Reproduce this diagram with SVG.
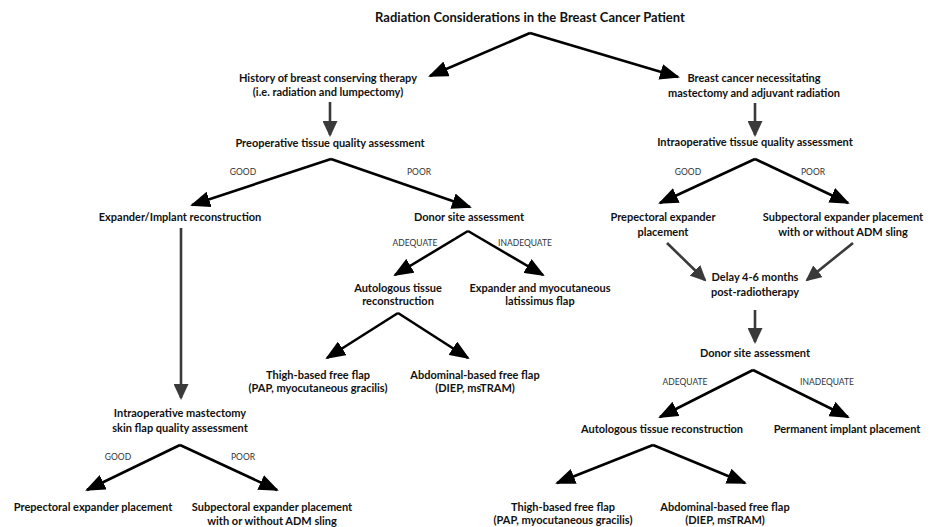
<svg xmlns="http://www.w3.org/2000/svg" width="931" height="527" viewBox="0 0 931 527">
<defs>
<marker id="ah" markerUnits="userSpaceOnUse" markerWidth="20" markerHeight="16" refX="18" refY="8" orient="auto" viewBox="0 0 20 16">
<path d="M0,0 L20,8 L0,16 Z" fill="#000"/>
</marker>
<marker id="ahg" markerUnits="userSpaceOnUse" markerWidth="16" markerHeight="15" refX="14" refY="7.5" orient="auto" viewBox="0 0 16 15">
<path d="M0,0 L16,7.5 L0,15 Z" fill="#3a3a3a"/>
</marker>
<style>
text{font-family:Lato,"Liberation Sans",sans-serif;text-anchor:middle;fill:#111}
.n{font-size:11px;font-weight:bold}
.t{font-size:13px;font-weight:bold}
.l{font-size:8.5px;fill:#333}
.c{stroke:#000;stroke-width:2.6;fill:none;marker-end:url(#ah)}
.g{stroke:#3a3a3a;stroke-width:2.6;fill:none;marker-end:url(#ahg)}
</style>
</defs>
<rect width="931" height="527" fill="#fff"/>
<g id="connectors">
<line class="c" x1="530" y1="33" x2="430" y2="76"/>
<line class="c" x1="530" y1="33" x2="678" y2="77"/>
<line class="g" x1="330" y1="102" x2="330" y2="135"/>
<line class="g" x1="755" y1="103" x2="755" y2="135"/>
<line class="c" x1="331" y1="159" x2="192" y2="205"/>
<line class="c" x1="331" y1="159" x2="470" y2="207"/>
<line class="c" x1="755" y1="159" x2="660" y2="203"/>
<line class="c" x1="755" y1="159" x2="848" y2="203"/>
<line class="g" x1="181" y1="228" x2="181" y2="398"/>
<line class="c" x1="468" y1="231" x2="395" y2="275"/>
<line class="c" x1="468" y1="231" x2="543" y2="275"/>
<line class="g" x1="667" y1="243" x2="705" y2="280"/>
<line class="g" x1="853" y1="243" x2="807" y2="280"/>
<line class="g" x1="755" y1="310" x2="755" y2="342"/>
<line class="c" x1="398" y1="313" x2="327" y2="358"/>
<line class="c" x1="398" y1="313" x2="468" y2="358"/>
<line class="c" x1="753" y1="370" x2="660" y2="417"/>
<line class="c" x1="753" y1="370" x2="848" y2="417"/>
<line class="c" x1="653" y1="445" x2="557" y2="483"/>
<line class="c" x1="653" y1="445" x2="745" y2="483"/>
<line class="c" x1="180" y1="445" x2="87" y2="490"/>
<line class="c" x1="180" y1="445" x2="277" y2="490"/>
</g>
<g id="edge-labels">
<text class="l" x="243" y="175">GOOD</text>
<text class="l" x="419" y="175">POOR</text>
<text class="l" x="688" y="175">GOOD</text>
<text class="l" x="813" y="175">POOR</text>
<text class="l" x="415" y="246">ADEQUATE</text>
<text class="l" x="525" y="246">INADEQUATE</text>
<text class="l" x="685" y="385">ADEQUATE</text>
<text class="l" x="827" y="385">INADEQUATE</text>
<text class="l" x="118" y="460">GOOD</text>
<text class="l" x="243" y="460">POOR</text>
</g>
<g id="title"><text class="t" x="530" y="22">Radiation Considerations in the Breast Cancer Patient</text></g>
<g id="n_bct"><text class="n" x="328" y="82">History of breast conserving therapy</text><text class="n" x="328" y="96">(i.e. radiation and lumpectomy)</text></g>
<g id="n_mast"><text class="n" x="754" y="82">Breast cancer necessitating</text><text class="n" x="754" y="97">mastectomy and adjuvant radiation</text></g>
<g id="n_preop"><text class="n" x="330" y="147">Preoperative tissue quality assessment</text></g>
<g id="n_intraop"><text class="n" x="755" y="146">Intraoperative tissue quality assessment</text></g>
<g id="n_expimp"><text class="n" x="180" y="221">Expander/Implant reconstruction</text></g>
<g id="n_donorL"><text class="n" x="469" y="221">Donor site assessment</text></g>
<g id="n_prepecR"><text class="n" x="663" y="221">Prepectoral expander</text><text class="n" x="663" y="236">placement</text></g>
<g id="n_subpecR"><text class="n" x="843" y="221">Subpectoral expander placement</text><text class="n" x="843" y="236">with or without ADM sling</text></g>
<g id="n_delay"><text class="n" x="755" y="281">Delay 4-6 months</text><text class="n" x="755" y="296">post-radiotherapy</text></g>
<g id="n_autoL"><text class="n" x="398" y="292">Autologous tissue</text><text class="n" x="398" y="305">reconstruction</text></g>
<g id="n_expLat"><text class="n" x="540" y="292">Expander and myocutaneous</text><text class="n" x="540" y="305">latissimus flap</text></g>
<g id="n_donorR"><text class="n" x="755" y="357">Donor site assessment</text></g>
<g id="n_thighL"><text class="n" x="318" y="379">Thigh-based free flap</text><text class="n" x="318" y="392">(PAP, myocutaneous gracilis)</text></g>
<g id="n_abdL"><text class="n" x="475" y="379">Abdominal-based free flap</text><text class="n" x="475" y="392">(DIEP, msTRAM)</text></g>
<g id="n_intraMast"><text class="n" x="180" y="417">Intraoperative mastectomy</text><text class="n" x="180" y="432">skin flap quality assessment</text></g>
<g id="n_autoR"><text class="n" x="662" y="433">Autologous tissue reconstruction</text></g>
<g id="n_permR"><text class="n" x="847" y="433">Permanent implant placement</text></g>
<g id="n_prepecL"><text class="n" x="93" y="511">Prepectoral expander placement</text></g>
<g id="n_subpecL"><text class="n" x="272" y="511">Subpectoral expander placement</text><text class="n" x="272" y="525">with or without ADM sling</text></g>
<g id="n_thighR"><text class="n" x="563" y="511">Thigh-based free flap</text><text class="n" x="563" y="524">(PAP, myocutaneous gracilis)</text></g>
<g id="n_abdR"><text class="n" x="725" y="511">Abdominal-based free flap</text><text class="n" x="725" y="524">(DIEP, msTRAM)</text></g>
</svg>
